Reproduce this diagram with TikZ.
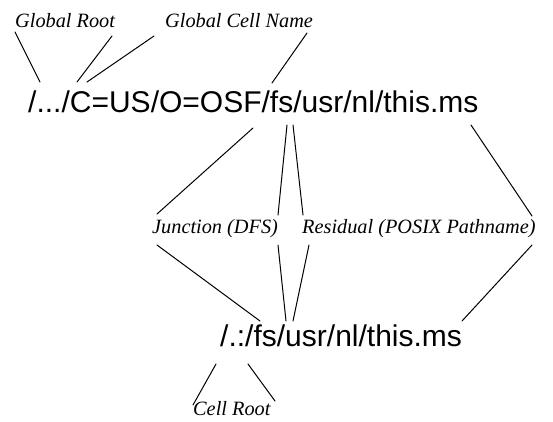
\documentclass[tikz,border=0pt]{standalone}
\usepackage{fontspec}
\setmainfont{Liberation Serif}
\newfontfamily\pathfont{Liberation Sans}
\begin{document}
\begin{tikzpicture}[x=1pt,y=-1pt,
  pathname/.style={inner sep=0pt, anchor=base west,
    font=\pathfont\fontsize{30}{30}\selectfont},
  tag/.style={inner sep=0pt, anchor=base west,
    font=\itshape\fontsize{20.3}{20.3}\selectfont},
  leader/.style={line width=1pt, line cap=round}]
\useasboundingbox (0,0) rectangle (553,421);

% the two names
\node[pathname] (global) at (28,112) {/.../C=US/O=OSF/fs/usr/nl/this.ms};
\node[pathname] (local)  at (220,346) {/.:/fs/usr/nl/this.ms};

% the part labels
\node[tag] (groot)    at (15,27)   {Global Root};
\node[tag] (gcell)    at (165,27)  {Global Cell Name};
\node[tag] (junction) at (152,233) {Junction (DFS)};
\node[tag] (residual) at (302,233) {Residual (POSIX Pathname)};
\node[tag] (croot)    at (193,415) {Cell Root};

% end points of the leader lines
\coordinate (grA)  at (15,32);   \coordinate (grA') at (40,82);
\coordinate (grB)  at (112,36);  \coordinate (grB') at (77,82);
\coordinate (gcA)  at (154,36);  \coordinate (gcA') at (87,82);
\coordinate (gcB)  at (307,33);  \coordinate (gcB') at (272,83);

\coordinate (jnTop)  at (253,128); \coordinate (jnUp)  at (157,214);
\coordinate (jnDown) at (157,245); \coordinate (jnBot) at (260,321);

\coordinate (fsTopL) at (287,125); \coordinate (fsUpL)  at (278,215);
\coordinate (fsTopR) at (293,125); \coordinate (fsUpR)  at (303,215);
\coordinate (fsDnL)  at (278,245); \coordinate (fsBotL) at (286,321);
\coordinate (fsDnR)  at (309,245); \coordinate (fsBotR) at (293,321);

\coordinate (rsTop)  at (471,125); \coordinate (rsUp)  at (532,216);
\coordinate (rsDown) at (532,245); \coordinate (rsBot) at (462,321);

\coordinate (crA) at (216,364);  \coordinate (crA') at (193,405);
\coordinate (crB) at (248,364);  \coordinate (crB') at (275,401);

% global name to its labels
\draw[leader] (grA) -- (grA');
\draw[leader] (grB) -- (grB');
\draw[leader] (gcA) -- (gcA');
\draw[leader] (gcB) -- (gcB');

% global name down to junction / residual
\draw[leader] (jnTop) -- (jnUp);
\draw[leader] (fsTopL) -- (fsUpL);
\draw[leader] (fsTopR) -- (fsUpR);
\draw[leader] (rsTop) -- (rsUp);

% junction / residual down to the cell-relative name
\draw[leader] (jnDown) -- (jnBot);
\draw[leader] (fsDnL) -- (fsBotL);
\draw[leader] (fsDnR) -- (fsBotR);
\draw[leader] (rsDown) -- (rsBot);

% cell root
\draw[leader] (crA) -- (crA');
\draw[leader] (crB) -- (crB');
\end{tikzpicture}
\end{document}
